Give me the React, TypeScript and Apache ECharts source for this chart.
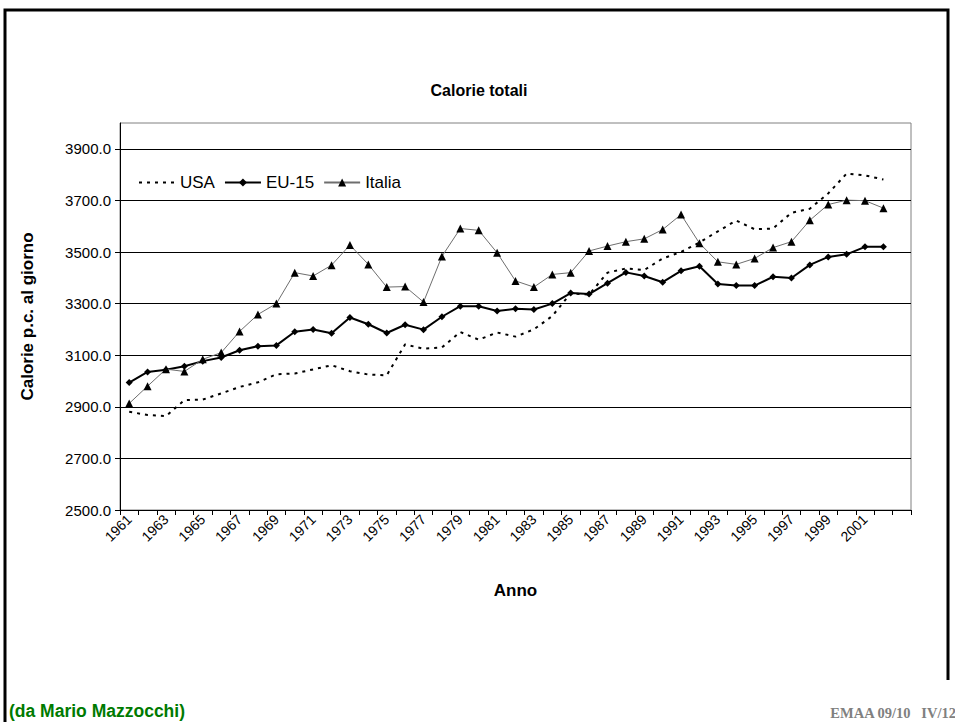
import React, { useEffect, useRef } from 'react';
import * as echarts from 'echarts';

const years = [
  '1961', '1962', '1963', '1964', '1965', '1966', '1967', '1968', '1969', '1970',
  '1971', '1972', '1973', '1974', '1975', '1976', '1977', '1978', '1979', '1980',
  '1981', '1982', '1983', '1984', '1985', '1986', '1987', '1988', '1989', '1990',
  '1991', '1992', '1993', '1994', '1995', '1996', '1997', '1998', '1999', '2000',
  '2001', '2002', '',
];

const usa = [
  2881, 2868, 2864, 2926, 2928, 2952, 2977, 2995, 3026, 3029,
  3045, 3061, 3038, 3025, 3022, 3142, 3125, 3130, 3190, 3160,
  3188, 3172, 3200, 3252, 3340, 3335, 3420, 3436, 3430, 3475,
  3500, 3537, 3580, 3622, 3588, 3591, 3652, 3668, 3727, 3804,
  3797, 3781,
];

const eu15 = [
  2994, 3035, 3044, 3057, 3077, 3091, 3119, 3135, 3138, 3191,
  3200, 3185, 3246, 3220, 3186, 3218, 3199, 3249, 3290, 3290,
  3271, 3280, 3277, 3300, 3341, 3337, 3379, 3421, 3407, 3383,
  3427, 3445, 3376, 3370, 3370, 3404, 3399, 3450, 3481, 3491,
  3520, 3520,
];

const italia = [
  2913, 2980, 3046, 3037, 3084, 3110, 3192, 3258, 3300, 3420,
  3407, 3449, 3527, 3452, 3364, 3366, 3306, 3483, 3591, 3584,
  3497, 3388, 3364, 3413, 3420, 3504, 3523, 3540, 3551, 3587,
  3645, 3534, 3462, 3452, 3475, 3517, 3540, 3623, 3684, 3701,
  3699, 3670,
];

const yMin = 2500;
const yMax = 4000;
const yStep = 100;

const FONT = 'Liberation Sans, Arial, sans-serif';

export default function App() {
  const ref = useRef<HTMLDivElement>(null);
  useEffect(() => {
    const chart = echarts.init(ref.current!, null, { renderer: 'svg' });
    chart.setOption({
      animation: false,
      backgroundColor: '#ffffff',
      textStyle: { fontFamily: FONT, color: '#000' },
      grid: {
        left: 120,
        right: 44,
        top: 123,
        bottom: 212,
        show: true,
        borderColor: '#808080',
        borderWidth: 1,
        backgroundColor: 'transparent',
      },
      legend: {
        left: 133,
        top: 169,
        itemWidth: 36,
        itemHeight: 10,
        itemGap: 9,
        textStyle: { fontFamily: FONT, fontSize: 17, color: '#000' },
        data: [
          { name: 'USA', itemStyle: { opacity: 0 } },
          { name: 'EU-15' },
          { name: 'Italia' },
        ],
      },
      xAxis: {
        type: 'category',
        data: years,
        boundaryGap: true,
        name: 'Anno',
        nameLocation: 'middle',
        nameGap: 72,
        nameTextStyle: { fontFamily: FONT, fontSize: 17, fontWeight: 'bold', color: '#000' },
        axisLine: { show: true, lineStyle: { color: '#000', width: 1 } },
        axisTick: { show: true, interval: 0, length: 5, lineStyle: { color: '#000' } },
        axisLabel: {
          interval: 1,
          rotate: 45,
          margin: 7,
          fontFamily: FONT,
          fontSize: 14,
          color: '#000',
        },
        splitLine: { show: false },
      },
      yAxis: {
        type: 'value',
        min: yMin,
        max: yMax,
        interval: yStep * 2,
        name: 'Calorie p.c. al giorno',
        nameLocation: 'middle',
        nameGap: 84,
        nameRotate: 90,
        nameTextStyle: { fontFamily: FONT, fontSize: 17, fontWeight: 'bold', color: '#000' },
        axisLine: { show: true, lineStyle: { color: '#000', width: 1 } },
        axisTick: { show: true, length: 5, lineStyle: { color: '#000' } },
        axisLabel: {
          showMaxLabel: false,
          margin: 9,
          fontFamily: FONT,
          fontSize: 15,
          color: '#000',
          formatter: (v: number) => v.toFixed(1),
        },
        splitLine: {
          show: true,
          showMinLine: false,
          showMaxLine: false,
          lineStyle: { color: '#000', width: 1 },
        },
      },
      series: [
        {
          name: 'USA',
          type: 'line',
          data: usa,
          symbol: 'none',
          lineStyle: { color: '#000', width: 2, type: [3, 5] },
          itemStyle: { color: '#000' },
          z: 3,
        },
        {
          name: 'EU-15',
          type: 'line',
          data: eu15,
          symbol: 'diamond',
          symbolSize: 7,
          lineStyle: { color: '#000', width: 2 },
          itemStyle: { color: '#000' },
          z: 4,
        },
        {
          name: 'Italia',
          type: 'line',
          data: italia,
          symbol: 'triangle',
          symbolSize: 8,
          lineStyle: { color: '#6e6e6e', width: 1 },
          itemStyle: { color: '#000' },
          z: 5,
        },
      ],
      graphic: [
        {
          type: 'polyline',
          shape: { points: [[5, 722], [5, 10], [948, 10], [948, 680]] },
          style: { stroke: '#000', lineWidth: 3, fill: 'none' },
          silent: true,
        },
        {
          type: 'text',
          x: 479,
          y: 90,
          style: {
            text: 'Calorie totali',
            fontFamily: FONT,
            fontSize: 16,
            fontWeight: 'bold',
            fill: '#000',
            align: 'center',
            verticalAlign: 'middle',
          },
        },
        {
          type: 'text',
          x: 9,
          y: 711,
          style: {
            text: '(da Mario Mazzocchi)',
            fontFamily: 'Liberation Sans Narrow, Liberation Sans, Arial, sans-serif',
            fontSize: 17.5,
            fontWeight: 'bold',
            fill: '#007a00',
            align: 'left',
            verticalAlign: 'middle',
          },
        },
        {
          type: 'text',
          x: 956,
          y: 713,
          style: {
            text: 'EMAA 09/10   IV/12',
            fontFamily: 'Liberation Serif, Times New Roman, serif',
            fontSize: 14.5,
            fontWeight: 'bold',
            fill: '#808080',
            align: 'right',
            verticalAlign: 'middle',
          },
        },
      ],
    });
    return () => chart.dispose();
  }, []);
  return (
    <div
      ref={ref}
      style={{ position: 'fixed', left: 0, top: 0, width: 955, height: 722, background: '#fff' }}
    />
  );
}
